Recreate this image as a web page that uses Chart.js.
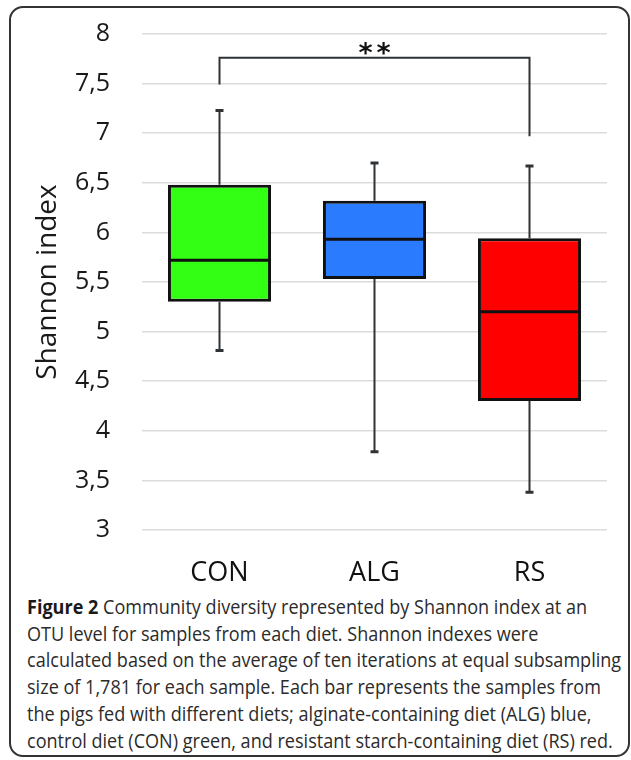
<!DOCTYPE html>
<html>
<head>
<meta charset="utf-8">
<script src="https://cdn.jsdelivr.net/npm/chart.js@4.4.1/dist/chart.umd.min.js"></script>
<style>
  body { margin: 0; background: #fff; width: 631px; height: 760px; position: relative; overflow: hidden; }
  #frame { position: absolute; left: 9px; top: 6px; width: 621px; height: 751px; border: 2px solid #333; border-radius: 14px; box-sizing: border-box; }
  #chartWrap { position: absolute; left: 0; top: 0; width: 631px; height: 590px; }
  #caption { position: absolute; left: 27px; top: 594px; font-family: 'Open Sans', sans-serif; font-size: 20px; line-height: 26.7px; color: #2b2b2b; transform-origin: 0 0; white-space: nowrap; }
  #caption b { color: #1a1a1a; }
</style>
</head>
<body>
<div id="frame"></div>
<div id="chartWrap"><canvas id="boxChart" width="631" height="590"></canvas></div>
<div id="caption">
  <div><b>Figure 2</b> Community diversity represented by Shannon index at an</div>
  <div>OTU level for samples from each diet. Shannon indexes were</div>
  <div>calculated based on the average of ten iterations at equal subsampling</div>
  <div>size of 1,781 for each sample. Each bar represents the samples from</div>
  <div>the pigs fed with different diets; alginate-containing diet (ALG) blue,</div>
  <div>control diet (CON) green, and resistant starch-containing diet (RS) red.</div>
</div>
<script>
// ---- data ----
const categories = ['CON', 'ALG', 'RS'];
const whiskerLow = [4.81, 3.79, 3.38];
const q1 = [5.30, 5.53, 4.30];
const medians = [5.72, 5.93, 5.20];
const q3 = [6.48, 6.32, 5.94];
const whiskerHigh = [7.23, 6.70, 6.67];
const boxColors = ['#33ff14', '#2b7bff', '#ff0000'];

// significance bracket CON vs RS
const bracketFrom = 0, bracketTo = 2;
const bracketTop = 7.76;
const bracketLegEnds = [7.49, 6.97];
const bracketLabel = '**';

const yMin = 3, yMax = 8, yStep = 0.5;

/**
 * Whiskers, medians and the significance bracket
 */
const boxExtras = {
  id: 'boxExtras',
  beforeDatasetsDraw(chart) {
    const { ctx, scales: { x, y } } = chart;
    ctx.save();
    ctx.strokeStyle = '#2f3336';
    categories.forEach((c, i) => {
      const cx = x.getPixelForValue(i);
      ctx.lineWidth = 2;
      ctx.beginPath();
      ctx.moveTo(cx, y.getPixelForValue(whiskerHigh[i]));
      ctx.lineTo(cx, y.getPixelForValue(q3[i]));
      ctx.moveTo(cx, y.getPixelForValue(q1[i]));
      ctx.lineTo(cx, y.getPixelForValue(whiskerLow[i]));
      ctx.stroke();
      // caps
      ctx.lineWidth = 3;
      ctx.beginPath();
      ctx.moveTo(cx - 4, y.getPixelForValue(whiskerHigh[i]));
      ctx.lineTo(cx + 4, y.getPixelForValue(whiskerHigh[i]));
      ctx.moveTo(cx - 4, y.getPixelForValue(whiskerLow[i]));
      ctx.lineTo(cx + 4, y.getPixelForValue(whiskerLow[i]));
      ctx.stroke();
    });
    ctx.restore();
  },
  afterDatasetsDraw(chart) {
    const { ctx, scales: { x, y } } = chart;
    const meta = chart.getDatasetMeta(0);
    ctx.save();
    ctx.strokeStyle = '#111';
    ctx.lineWidth = 3;
    meta.data.forEach((bar, i) => {
      const my = y.getPixelForValue(medians[i]);
      ctx.beginPath();
      ctx.moveTo(bar.x - bar.width / 2, my);
      ctx.lineTo(bar.x + bar.width / 2, my);
      ctx.stroke();
    });

    // bracket
    const x1 = x.getPixelForValue(bracketFrom);
    const x2 = x.getPixelForValue(bracketTo);
    const by = y.getPixelForValue(bracketTop);
    ctx.strokeStyle = '#2f3336';
    ctx.lineWidth = 2;
    ctx.beginPath();
    ctx.moveTo(x1, y.getPixelForValue(bracketLegEnds[0]));
    ctx.lineTo(x1, by);
    ctx.lineTo(x2, by);
    ctx.lineTo(x2, y.getPixelForValue(bracketLegEnds[1]));
    ctx.stroke();

    ctx.fillStyle = '#111';
    ctx.font = "bold 27px 'DejaVu Sans', sans-serif";
    ctx.letterSpacing = '4px';
    ctx.textAlign = 'center';
    ctx.textBaseline = 'alphabetic';
    ctx.fillText(bracketLabel, (x1 + x2) / 2 + 2, by + 4);
    ctx.restore();
  }
};

new Chart(document.getElementById('boxChart').getContext('2d'), {
  type: 'bar',
  data: {
    labels: categories,
    datasets: [{
      data: categories.map((c, i) => [q1[i], q3[i]]),
      backgroundColor: boxColors,
      borderColor: '#111',
      borderWidth: 3,
      borderSkipped: false,
      barPercentage: 0.665,
      categoryPercentage: 1
    }]
  },
  options: {
    responsive: false,
    animation: false,
    layout: { padding: { top: 34, right: 24, left: 0, bottom: 0 } },
    plugins: { legend: { display: false }, tooltip: { enabled: false } },
    scales: {
      x: {
        grid: { display: false, drawTicks: false },
        border: { display: false },
        ticks: { color: '#111', padding: 27, font: { family: "'Open Sans', sans-serif", size: 27 } },
        afterFit: scale => { scale.height = 60; scale.paddingLeft = 0; scale.paddingRight = 0; }
      },
      y: {
        min: yMin,
        max: yMax,
        grid: { color: '#dcdcdc', lineWidth: 1.5, drawTicks: false },
        border: { display: false },
        ticks: {
          stepSize: yStep,
          color: '#1a1a1a',
          padding: 32,
          font: { family: "'Open Sans', sans-serif", size: 25 },
          callback: v => String(v).replace('.', ',')
        },
        title: {
          display: true,
          text: 'Shannon index',
          color: '#1a1a1a',
          padding: { top: 31, bottom: 0 },
          font: { family: "'Open Sans', sans-serif", size: 28 }
        },
        afterFit: scale => { scale.width = 142; scale.paddingTop = 0; scale.paddingBottom = 0; }
      }
    }
  },
  plugins: [boxExtras]
});

// squeeze the caption to the narrow face used in the figure
const cap = document.getElementById('caption');
const widest = Math.max(...Array.from(cap.children).map(d => d.scrollWidth));
cap.style.transform = 'scaleX(' + (594 / widest) + ')';
</script>
</body>
</html>
